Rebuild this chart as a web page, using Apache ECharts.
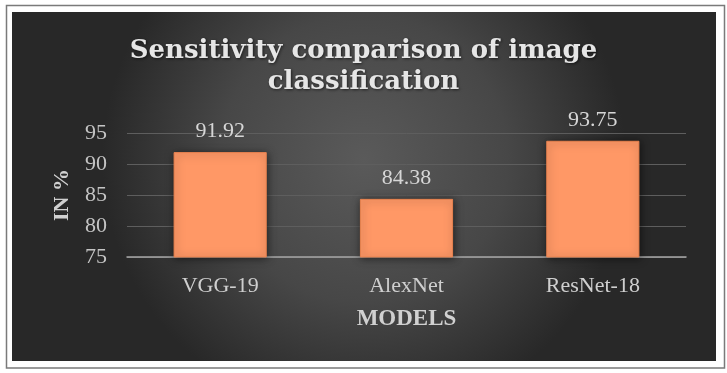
<!DOCTYPE html>
<html>
<head>
<meta charset="utf-8">
<script src="https://cdn.jsdelivr.net/npm/echarts@6/dist/echarts.min.js"></script>
<style>
html,body{margin:0;padding:0;background:#fff;}
#chart{width:727px;height:373px;}
</style>
</head>
<body>
<div id="chart"></div>
<script>
const categories = ["VGG-19", "AlexNet", "ResNet-18"];
const sensitivity = [91.92, 84.38, 93.75];
const yTicks = [75, 80, 85, 90, 95];

const chart = echarts.init(document.getElementById('chart'), null, {renderer: 'canvas'});
chart.setOption({
  backgroundColor: '#ffffff',
  animation: false,
  graphic: [
    {type: 'rect', z: -10, silent: true,
     shape: {x: 6.5, y: 5.5, width: 718, height: 362.5},
     style: {fill: '#ffffff', stroke: '#7a7a7a', lineWidth: 1.5}},
    {type: 'rect', z: -9, silent: true,
     shape: {x: 12, y: 12, width: 704, height: 349},
     style: {fill: new echarts.graphic.RadialGradient(0.5, 0.42, 0.75, [
       {offset: 0, color: '#5a5a5a'},
       {offset: 0.55, color: '#474747'},
       {offset: 1, color: '#282828'}
     ])}}
  ],
  title: {
    text: 'Sensitivity comparison of image\nclassification',
    left: 'center',
    top: 31,
    textStyle: {
      fontFamily: 'DejaVu Serif',
      fontWeight: 'bold',
      fontSize: 26,
      lineHeight: 31,
      color: '#e6e6e6',
      textShadowColor: 'rgba(0,0,0,0.6)',
      textShadowBlur: 3,
      textShadowOffsetX: 1,
      textShadowOffsetY: 1
    }
  },
  grid: {left: 127, right: 41, top: 133, bottom: 116},
  xAxis: {
    type: 'category',
    data: categories,
    name: 'MODELS',
    nameLocation: 'middle',
    nameGap: 51,
    nameTextStyle: {fontFamily: 'Liberation Serif', fontWeight: 'bold', fontSize: 23, color: '#d0d0d0'},
    axisLine: {lineStyle: {color: '#a6a6a6', width: 1.5}},
    axisTick: {show: false},
    axisLabel: {fontFamily: 'Liberation Serif', fontSize: 22, color: '#cfcfcf', margin: 18}
  },
  yAxis: {
    type: 'value',
    min: 75, max: 95, interval: 5,
    name: 'IN %',
    nameLocation: 'middle',
    nameGap: 54,
    nameRotate: 90,
    nameTextStyle: {fontFamily: 'Liberation Serif', fontWeight: 'bold', fontSize: 22, color: '#d0d0d0'},
    axisLine: {show: false},
    axisTick: {show: false},
    splitLine: {lineStyle: {color: '#5e5e5e', width: 1}},
    axisLabel: {
      fontFamily: 'Liberation Serif', fontSize: 22, color: '#c4c4c4', margin: 20,
      formatter: function (v) { return yTicks.indexOf(v) >= 0 ? String(v) : ''; }
    }
  },
  series: [{
    type: 'bar',
    data: sensitivity,
    barWidth: '50%',
    itemStyle: {
      color: '#ff9866',
      borderColor: '#e8824f',
      borderWidth: 1,
      shadowColor: 'rgba(0,0,0,0.55)',
      shadowBlur: 8,
      shadowOffsetX: 1,
      shadowOffsetY: 1
    },
    label: {
      show: true,
      position: 'top',
      distance: 10,
      fontFamily: 'Liberation Serif',
      fontSize: 22,
      color: '#d6d6d6',
      formatter: function (p) { return p.value.toFixed(2); }
    }
  }]
});
</script>
</body>
</html>
